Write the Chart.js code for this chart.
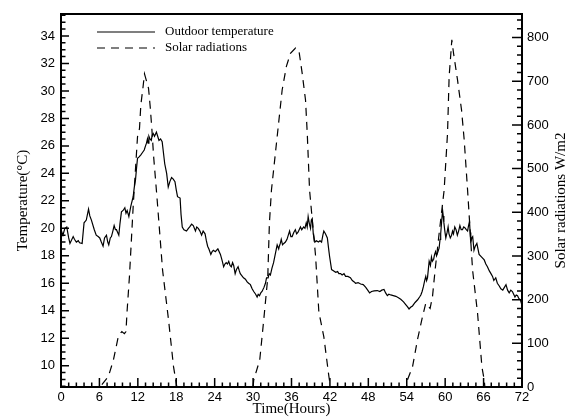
<!DOCTYPE html>
<html lang="en">
<head>
<meta charset="UTF-8">
<title>Outdoor temperature and solar radiations</title>
<script src="https://cdn.jsdelivr.net/npm/chart.js"></script>
<style>
  body { margin: 0; background: #fff; }
  canvas { display: block; }
</style>
</head>
<body>
<canvas id="grafico" width="576" height="417"></canvas>
<script>
// values (hours / degC / W/m2)
const tempHours = [0, 0.3, 0.6, 0.9, 1.2, 1.4, 1.9, 2.1, 2.4, 2.7, 2.9, 3.3, 3.6, 3.95, 4.3, 4.5, 4.75, 5.2, 5.5, 5.8,
  6.05, 6.3, 6.57, 6.8, 7.1, 7.3, 7.46, 7.7, 7.88, 8.1, 8.3, 8.5, 8.66, 9.03, 9.2, 9.44, 9.7, 9.97, 10.15, 10.33,
  10.6, 10.9, 11.27, 11.45, 11.63, 11.8, 11.95, 12.2, 12.47, 12.7, 13.0, 13.2, 13.35, 13.5, 13.6, 13.73, 13.9, 14.1, 14.25, 14.4,
  14.6, 14.9, 15.1, 15.3, 15.55, 15.8, 16.0, 16.2, 16.5, 16.75, 17.0, 17.27, 17.5, 17.8, 18.0, 18.2, 18.6, 18.75, 18.94, 19.2,
  19.6, 19.9, 20.1, 20.4, 20.66, 21.0, 21.2, 21.44, 21.7, 21.96, 22.2, 22.5, 22.7, 22.9, 23.1, 23.4, 23.6, 23.8, 24.1, 24.5,
  24.9, 25.2, 25.4, 25.6, 25.8, 26.0, 26.2, 26.4, 26.6, 26.8, 26.97, 27.2, 27.4, 27.66, 27.85, 28.0, 28.5, 28.8, 29.07, 29.3,
  29.58, 29.85, 30.1, 30.4, 30.63, 30.8, 31.0, 31.2, 31.4, 31.7, 31.93, 32.1, 32.35, 32.5, 32.7, 32.95, 33.2, 33.5, 33.76, 34.0,
  34.1, 34.25, 34.4, 34.6, 34.8, 35.05, 35.3, 35.5, 35.7, 35.9, 36.1, 36.35, 36.6, 36.8, 37.0, 37.2, 37.4, 37.6, 37.9, 38.1,
  38.3, 38.45, 38.6, 38.8, 38.97, 39.1, 39.24, 39.4, 39.65, 39.9, 40.2, 40.45, 40.7, 40.9, 41.05, 41.3, 41.6, 41.8, 41.95, 42.26,
  42.6, 42.9, 43.2, 43.4, 43.67, 43.9, 44.2, 44.45, 44.8, 45.2, 45.5, 45.8, 46.0, 46.4, 46.8, 47.2, 47.6, 47.9, 48.2, 48.5,
  48.9, 49.4, 49.8, 50.1, 50.45, 50.7, 50.97, 51.2, 51.5, 51.9, 52.3, 52.7, 53.06, 53.5, 53.84, 54.1, 54.36, 54.6, 54.9, 55.3,
  55.7, 56.0, 56.2, 56.4, 56.6, 56.8, 56.97, 57.1, 57.24, 57.5, 57.7, 57.86, 58.0, 58.2, 58.35, 58.5, 58.65, 58.8, 59.05, 59.2,
  59.3, 59.45, 59.6, 59.7, 59.8, 59.95, 60.1, 60.3, 60.46, 60.6, 60.8, 61.0, 61.15, 61.3, 61.5, 61.7, 61.9, 62.1, 62.3, 62.5,
  62.7, 62.9, 63.07, 63.3, 63.5, 63.65, 63.8, 63.9, 64.0, 64.15, 64.3, 64.5, 64.7, 64.95, 65.3, 65.7, 66.1, 66.35, 66.6, 66.9,
  67.15, 67.4, 67.6, 67.9, 68.15, 68.45, 68.7, 69.0, 69.25, 69.5, 69.75, 70.0, 70.25, 70.5, 70.7, 70.9, 71.1, 71.3, 71.5, 71.74, 72.0];
const tempValues = [19.9, 19.5, 20.0, 20.1, 19.3, 18.9, 19.4, 19.2, 19.0, 19.1, 18.95, 18.9, 20.4, 20.6, 21.4, 20.9, 20.6, 19.9, 19.5, 19.4,
  19.3, 19.0, 18.7, 19.3, 19.5, 19.0, 18.8, 19.3, 19.4, 19.8, 20.2, 19.9, 19.9, 19.5, 20.3, 21.2, 21.3, 21.5, 21.1, 21.3,
  20.85, 21.6, 22.3, 23.0, 23.5, 24.4, 25.1, 25.2, 25.35, 25.5, 25.7, 26.0, 26.2, 26.5, 26.2, 26.7, 26.5, 26.4, 26.8, 26.9,
  26.7, 27.0, 26.7, 26.4, 26.5, 26.3, 25.5, 24.7, 24.0, 23.0, 23.4, 23.7, 23.6, 23.4, 22.8, 22.3, 22.2, 21.0, 20.1, 19.9,
  19.8, 20.0, 20.1, 20.3, 20.2, 19.8, 20.1, 20.0, 19.8, 19.5, 19.8, 19.6, 19.1, 18.7, 18.5, 18.1, 18.3, 18.4, 18.3, 18.5,
  18.1, 17.6, 17.2, 17.4, 17.5, 17.4, 17.6, 17.3, 17.2, 17.5, 17.3, 16.7, 17.0, 17.2, 16.9, 16.7, 16.4, 16.3, 16.1, 16.0,
  15.9, 15.6, 15.4, 15.2, 15.0, 15.2, 15.1, 15.3, 15.4, 15.7, 16.0, 16.4, 16.4, 16.7, 16.6, 17.1, 17.5, 18.2, 18.8, 18.5,
  18.7, 18.9, 19.2, 18.8, 18.9, 19.0, 19.2, 19.5, 19.8, 19.4, 19.4, 19.7, 19.9, 19.6, 19.7, 19.9, 20.1, 19.9, 20.1, 20.0,
  20.4, 20.1, 20.85, 20.3, 20.0, 20.6, 20.7, 19.6, 19.0, 19.1, 19.0, 19.1, 19.0, 19.5, 19.8, 19.6, 19.3, 18.5, 17.95, 17.0,
  16.9, 16.8, 16.85, 16.7, 16.7, 16.6, 16.7, 16.5, 16.5, 16.4, 16.2, 16.1, 16.0, 16.05, 15.95, 15.9, 15.7, 15.5, 15.3, 15.4,
  15.45, 15.47, 15.4, 15.5, 15.55, 15.3, 15.1, 15.2, 15.15, 15.1, 15.05, 14.95, 14.84, 14.65, 14.45, 14.3, 14.13, 14.25, 14.35, 14.6,
  14.8, 15.0, 15.15, 15.4, 15.75, 16.2, 16.5, 16.2, 16.4, 17.6, 17.3, 17.9, 17.6, 17.75, 18.1, 18.3, 18.0, 18.2, 18.55, 19.2,
  19.6, 20.5, 21.3, 20.9, 20.4, 19.8, 19.3, 19.7, 20.1, 19.6, 19.3, 19.5, 19.8, 19.6, 20.1, 19.9, 19.5, 19.8, 20.2, 19.9,
  19.9, 20.1, 20.05, 19.9, 19.8, 20.2, 20.5, 19.7, 18.9, 19.3, 19.4, 18.4, 18.7, 18.9, 18.1, 17.9, 17.7, 17.4, 17.2, 16.9,
  16.7, 16.5, 16.2, 16.4, 16.0, 15.8, 15.6, 15.5, 15.7, 15.9, 15.5, 15.3, 15.5, 15.4, 15.2, 15.0, 15.15, 15.1, 14.9, 14.8, 14.4];

const solarHours = [0, 6.1, 6.37, 7.4, 8.19, 8.97, 9.5, 9.9, 10.15, 10.3, 10.69, 11.3, 11.95, 12.26, 12.47, 12.79, 13.04, 13.67, 13.93, 14.2,
  14.45, 14.98, 15.5, 15.86, 16.8, 17.58, 18.1, 30.0, 30.1, 31.04, 31.66, 32.29, 32.55, 32.87, 33.76, 34.54, 35.2, 35.84, 36.63, 37.14,
  37.67, 38.19, 38.46, 38.82, 39.76, 40.27, 41.05, 41.84, 42.1, 54.0, 54.1, 54.9, 55.67, 56.46, 56.97, 57.65, 58.02, 58.43, 59.06, 59.84,
  60.37, 60.62, 60.89, 61.04, 61.31, 61.93, 62.56, 62.97, 63.5, 64.28, 65.06, 65.74, 66.1, 66.2, 72];
const solarValues = [0, 0, 5, 24, 62, 117, 127, 122, 127, 169, 253, 421, 573, 592, 646, 684, 717, 684, 642, 589,
  531, 436, 337, 268, 153, 46, 0, 0, 16, 62, 153, 250, 375, 451, 573, 680, 734, 764, 776, 772,
  718, 657, 581, 451, 300, 172, 115, 24, 0, 0, 16, 46, 108, 161, 192, 180, 207, 268, 352, 451,
  581, 711, 764, 795, 764, 703, 634, 566, 451, 268, 169, 46, 16, 0, 0];

const xTicks = [0, 6, 12, 18, 24, 30, 36, 42, 48, 54, 60, 66, 72];
const tempTicks = [10, 12, 14, 16, 18, 20, 22, 24, 26, 28, 30, 32, 34];
const solarTicks = [0, 100, 200, 300, 400, 500, 600, 700, 800];

const toPoints = (xs, ys) => xs.map((x, i) => ({ x: x, y: ys[i] }));
const fixTicks = arr => scale => { scale.ticks = arr.map(v => ({ value: v })); };

const sansFont = { family: '"Liberation Sans", Arial, sans-serif', size: 13 };
const serifFont = '"Liberation Serif", "Times New Roman", serif';

// frame, inward ticks (major + minor), legend and right-hand title
const framePlugin = {
  id: 'frame',
  afterDraw(chart) {
    const { ctx, chartArea: a, scales } = chart;
    ctx.save();
    ctx.strokeStyle = '#000';
    ctx.setLineDash([]);

    ctx.lineWidth = 1.5;
    ctx.beginPath();
    for (let i = 0; i <= 60; i++) {
      const px = scales.x.getPixelForValue(i * 1.2);
      const len = i % 5 === 0 ? 9 : 4.5;
      ctx.moveTo(px, a.bottom);
      ctx.lineTo(px, a.bottom - len);
    }
    for (let i = 17; i <= 71; i++) {
      const py = scales.y.getPixelForValue(i * 0.5);
      const len = i % 4 === 0 ? 8 : 4.5;
      ctx.moveTo(a.left, py);
      ctx.lineTo(a.left + len, py);
    }
    for (let i = 0; i <= 42; i++) {
      const py = scales.y2.getPixelForValue(i * 20);
      const len = i % 5 === 0 ? 10 : 5;
      ctx.moveTo(a.right, py);
      ctx.lineTo(a.right - len, py);
    }
    ctx.stroke();

    ctx.lineWidth = 2;
    ctx.strokeRect(a.left, a.top, a.right - a.left, a.bottom - a.top);

    // legend
    ctx.lineWidth = 1.2;
    ctx.font = '13px ' + serifFont;
    ctx.fillStyle = '#000';
    ctx.textBaseline = 'middle';
    ctx.textAlign = 'left';
    chart.data.datasets.forEach((ds, i) => {
      const y = 32 + i * 16;
      ctx.setLineDash(ds.borderDash || []);
      ctx.beginPath();
      ctx.moveTo(97, y);
      ctx.lineTo(155, y);
      ctx.stroke();
      ctx.fillText(ds.label, 165, y);
    });

    // right axis title, reading bottom to top
    ctx.setLineDash([]);
    ctx.font = '15px ' + serifFont;
    ctx.textAlign = 'center';
    ctx.translate(561, (a.top + a.bottom) / 2);
    ctx.rotate(-Math.PI / 2);
    ctx.fillText('Solar radiations W/m2', 0, 0);
    ctx.restore();
  }
};

new Chart(document.getElementById('grafico'), {
  type: 'line',
  data: {
    datasets: [{
      label: 'Outdoor temperature',
      data: toPoints(tempHours, tempValues),
      yAxisID: 'y',
      borderColor: '#000',
      borderWidth: 1.2,
      pointRadius: 0,
      tension: 0
    }, {
      label: 'Solar radiations',
      data: toPoints(solarHours, solarValues),
      yAxisID: 'y2',
      borderColor: '#000',
      borderWidth: 1.2,
      borderDash: [8, 6],
      pointRadius: 0,
      tension: 0
    }]
  },
  options: {
    responsive: false,
    animation: false,
    devicePixelRatio: 1,
    layout: { padding: { top: 14, left: 0, right: 0, bottom: 0 } },
    plugins: { legend: { display: false }, tooltip: { enabled: false } },
    scales: {
      x: {
        type: 'linear', min: 0, max: 72,
        afterBuildTicks: fixTicks(xTicks),
        afterFit: s => { s.height = 30; },
        grid: { display: false, drawTicks: false },
        border: { display: false },
        ticks: { color: '#000', font: sansFont, padding: 3, maxRotation: 0 },
        title: { display: true, text: 'Time(Hours)', color: '#000', padding: 0,
          font: { family: serifFont, size: 15, lineHeight: 1 } }
      },
      y: {
        type: 'linear', position: 'left', min: 8.45, max: 35.6,
        afterBuildTicks: fixTicks(tempTicks),
        afterFit: s => { s.width = 61; },
        grid: { display: false, drawTicks: false },
        border: { display: false },
        ticks: { color: '#000', font: sansFont, padding: 6 },
        title: { display: true, text: 'Temperature(°C)', color: '#000', padding: { top: 16 },
          font: { family: serifFont, size: 15, lineHeight: 1 } }
      },
      y2: {
        type: 'linear', position: 'right', min: 0, max: 854,
        afterBuildTicks: fixTicks(solarTicks),
        afterFit: s => { s.width = 54; },
        grid: { display: false, drawTicks: false },
        border: { display: false },
        ticks: { color: '#000', font: sansFont, padding: 5 }
      }
    }
  },
  plugins: [framePlugin]
});
</script>
</body>
</html>
